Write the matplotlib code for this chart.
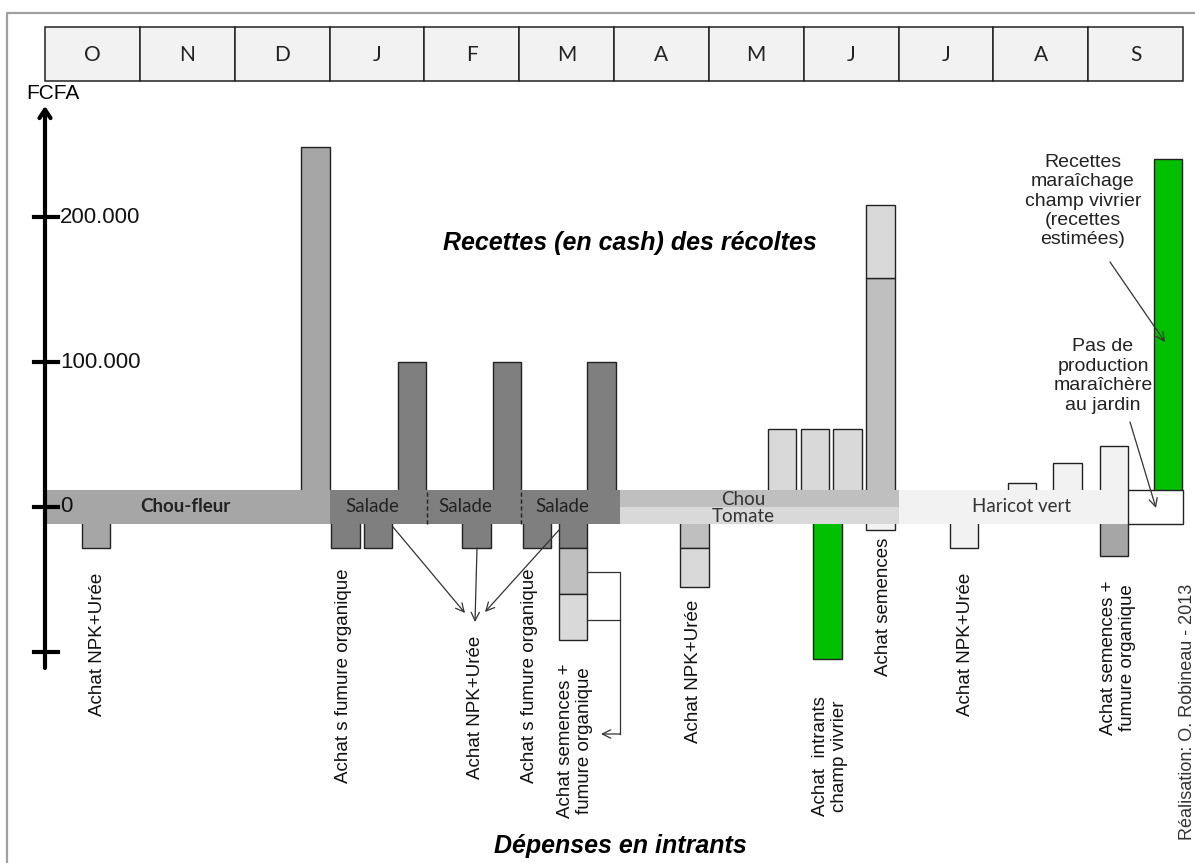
import numpy as np
import matplotlib
matplotlib.use('Agg')
import matplotlib.pyplot as plt

# months of the cropping year (Oct -> Sep)
months = ['O', 'N', 'D', 'J', 'F', 'M', 'A', 'M', 'J', 'J', 'A', 'S']

# revenue bars (recettes), position in months from start of October
recettes_pos = [2.70, 3.72, 4.72, 5.72, 7.62, 7.97, 8.31, 8.66, 10.15, 10.63, 11.12, 11.69]
rec_chou_fleur = [248000, 0, 0, 0, 0, 0, 0, 0, 0, 0, 0, 0]
rec_salade = [0, 100000, 100000, 100000, 0, 0, 0, 0, 0, 0, 0, 0]
rec_chou = [0, 0, 0, 0, 0, 0, 0, 158000, 0, 0, 0, 0]
rec_tomate = [0, 0, 0, 0, 54000, 54000, 54000, 50000, 0, 0, 0, 0]
rec_haricot = [0, 0, 0, 0, 0, 0, 0, 0, 16500, 30000, 42000, 0]
rec_vivrier = [0, 0, 0, 0, 0, 0, 0, 0, 0, 0, 0, 240000]

# input spending bars (depenses), drawn downwards
depenses_pos = [0.39, 3.02, 3.36, 4.40, 5.04, 5.42, 6.70, 8.10, 8.66, 9.54, 11.12]
dep_chou_fleur = [28000, 0, 0, 0, 0, 0, 0, 0, 0, 0, 34000]
dep_salade = [0, 28000, 28000, 28000, 28000, 28000, 0, 0, 0, 0, 0]
dep_chou = [0, 0, 0, 0, 0, 32000, 28000, 0, 0, 0, 0]
dep_tomate = [0, 0, 0, 0, 0, 32000, 27000, 0, 0, 0, 0]
dep_haricot = [0, 0, 0, 0, 0, 0, 0, 0, 16000, 28000, 0]
dep_vivrier = [0, 0, 0, 0, 0, 0, 0, 105000, 0, 0, 0]

dep_labels = ['Achat NPK+Urée', 'Achat s fumure organique', 'Achat NPK+Urée',
              'Achat s fumure organique', 'Achat semences +\nfumure organique',
              'Achat NPK+Urée', 'Achat  intrants\nchamp vivrier', 'Achat semences',
              'Achat NPK+Urée', 'Achat semences +\nfumure organique']

# crop cycles in the garden
band_start = [-0.02, 3.0, 6.06, 9.0]
band_end = [3.0, 6.06, 9.0, 11.42]
salade_cuts = [4.03, 5.02]
yticks = [200000, 100000, 0, -100000]
ytick_labels = ['200.000', '100.000', '0', '']

c_cf, c_sal, c_chou, c_tom, c_har, c_viv = '#a6a6a6', '#7f7f7f', '#bfbfbf', '#d9d9d9', '#f2f2f2', '#00c000'
BAND = 11400  # half height of the crop band
BW = 0.3

# pixel helpers for placing annotations
MW = (1183 - 45) / 12.0
def mx(px):
    return (px - 45) / MW
def fy(py):
    return (507 - py) / 145.0 * 100000

fig = plt.figure(figsize=(11.95, 8.63), dpi=100)
ax = fig.add_axes([0, 0, 1, 1])
ax.set_xlim(mx(0), mx(1195))
ax.set_ylim(fy(863), fy(0))
ax.axis('off')

ARIAL = 'Liberation Sans'
CAL = 'Lato'

# outer frame
ax.plot([mx(7), mx(7), mx(1195)], [fy(863), fy(13), fy(13)], color='#a0a0a0', lw=1.6,
        clip_on=False, solid_capstyle='butt')

# month header
ax.bar(np.arange(12), fy(27) - fy(81), bottom=fy(81), width=1, align='edge',
       color='#f2f2f2', edgecolor='#222222', lw=1.1)
for i, m in enumerate(months):
    ax.text(i + 0.5, fy(55), m, ha='center', va='center', fontsize=15,
            family=CAL, color='#222222')

# revenue bars
pos = np.array(recettes_pos)
bottom = np.zeros(len(pos))
for vals, col in [(rec_chou_fleur, c_cf), (rec_salade, c_sal), (rec_chou, c_chou),
                  (rec_tomate, c_tom), (rec_haricot, c_har), (rec_vivrier, c_viv)]:
    v = np.array(vals, dtype=float)
    k = v > 0
    ax.bar(pos[k], v[k], bottom=bottom[k], width=BW, align='edge', color=col,
           edgecolor='#222222', lw=1, zorder=2)
    bottom += v

# spending bars
pos = np.array(depenses_pos)
bottom = np.zeros(len(pos))
for vals, col in [(dep_chou_fleur, c_cf), (dep_salade, c_sal), (dep_chou, c_chou),
                  (dep_tomate, c_tom), (dep_haricot, c_har), (dep_vivrier, c_viv)]:
    v = np.array(vals, dtype=float)
    k = v > 0
    ax.bar(pos[k], -v[k], bottom=bottom[k], width=BW, align='edge', color=col,
           edgecolor='#222222', lw=1, zorder=2)
    bottom -= v

# crop bands
ax.barh(0, band_end[0] - band_start[0], left=band_start[0], height=2 * BAND, color=c_cf, zorder=3)
ax.barh(0, band_end[1] - band_start[1], left=band_start[1], height=2 * BAND, color=c_sal, zorder=3)
ax.barh(BAND / 2, band_end[2] - band_start[2], left=band_start[2], height=BAND, color=c_chou, zorder=3)
ax.barh(-BAND / 2, band_end[2] - band_start[2], left=band_start[2], height=BAND, color=c_tom, zorder=3)
ax.barh(0, band_end[3] - band_start[3], left=band_start[3], height=2 * BAND, color=c_har, zorder=3)
ax.barh(0, 12.0 - band_end[3], left=band_end[3], height=2 * BAND, color='white',
        edgecolor='#222222', lw=1, zorder=3)
for c in salade_cuts:
    ax.plot([c, c], [-BAND, BAND], color='#222222', lw=1, ls=(0, (3, 2)), zorder=4)

ax.text(mx(185), 0, 'Chou-fleur', ha='center', va='center', fontsize=13.5,
        fontweight='bold', family=CAL, color='#222222', zorder=5)
for px in [372, 465, 562]:
    ax.text(mx(px), 0, 'Salade', ha='center', va='center', fontsize=13.5,
            family=CAL, color='#222222', zorder=5)
ax.text(mx(743), fy(499), 'Chou', ha='center', va='center', fontsize=13.5,
        family=CAL, color='#333333', zorder=5)
ax.text(mx(743), fy(517), 'Tomate', ha='center', va='center', fontsize=13.5,
        family=CAL, color='#333333', zorder=5)
ax.text(mx(1022), 0, 'Haricot vert', ha='center', va='center', fontsize=13.5,
        family=CAL, color='#333333', zorder=5)

# vertical axis
ax.annotate('', xy=(0, fy(106)), xytext=(0, fy(668)),
            arrowprops=dict(arrowstyle='->,head_length=0.6,head_width=0.4', lw=3,
                            color='black', shrinkA=0, shrinkB=0), zorder=6)
for t, lab in zip(yticks, ytick_labels):
    ax.plot([mx(34), mx(58)], [t, t], color='black', lw=3, zorder=6)
    ax.text(mx(60), t, lab, ha='left', va='center', fontsize=16, family=ARIAL,
            color='#111111', zorder=6)
ax.text(mx(26), fy(93), 'FCFA', ha='left', va='center', fontsize=15, family=ARIAL)

# titles
ax.text(mx(630), fy(243), 'Recettes (en cash) des récoltes', ha='center', va='center',
        fontsize=18, fontweight='bold', style='italic', family=ARIAL)
ax.text(mx(620), fy(846), 'Dépenses en intrants', ha='center', va='center',
        fontsize=18, fontweight='bold', style='italic', family=ARIAL)

# rotated spending labels
lab_xy = [(97, 644), (343, 676), (476, 707), (530, 676), (575, 741),
          (693, 671), (830, 756), (883, 607), (965, 644), (1118, 658)]
for (px, py), lab in zip(lab_xy, dep_labels):
    ax.text(mx(px), fy(py), lab, rotation=90, ha='center', va='center',
            multialignment='center', fontsize=13.5, family=ARIAL, linespacing=1.15,
            color='#111111')
ax.text(mx(1187), fy(712), 'Réalisation: O. Robineau - 2013', rotation=90, ha='center',
        va='center', fontsize=13, family=ARIAL, color='#333333')

# upper right notes
ax.text(mx(1083), fy(201), 'Recettes\nmaraîchage\nchamp vivrier\n(recettes\nestimées)',
        ha='center', va='center', fontsize=14, family=ARIAL, linespacing=1.18,
        color='#222222')
ax.text(mx(1103), fy(376), 'Pas de\nproduction\nmaraîchère\nau jardin',
        ha='center', va='center', fontsize=14, family=ARIAL, linespacing=1.18,
        color='#222222')

arrow = dict(arrowstyle='->,head_length=0.6,head_width=0.3', lw=0.9, color='#333333',
             shrinkA=0, shrinkB=0)
for (x0, y0), (x1, y1) in [((1110, 262), (1165, 342)), ((1130, 422), (1156, 508)),
                           ((393, 527), (465, 613)), ((477, 548), (475, 622)),
                           ((559, 530), (485, 612))]:
    ax.annotate('', xy=(mx(x1), fy(y1)), xytext=(mx(x0), fy(y0)), arrowprops=arrow, zorder=6)

# bracket from the March stack to its label
ax.plot([mx(587), mx(620), mx(620)], [fy(572), fy(572), fy(734)], color='#333333', lw=0.9, zorder=6)
ax.plot([mx(587), mx(620)], [fy(620), fy(620)], color='#333333', lw=0.9, zorder=6)
ax.annotate('', xy=(mx(601), fy(734)), xytext=(mx(620), fy(734)), arrowprops=arrow, zorder=6)

fig.savefig('out.png', dpi=100)
